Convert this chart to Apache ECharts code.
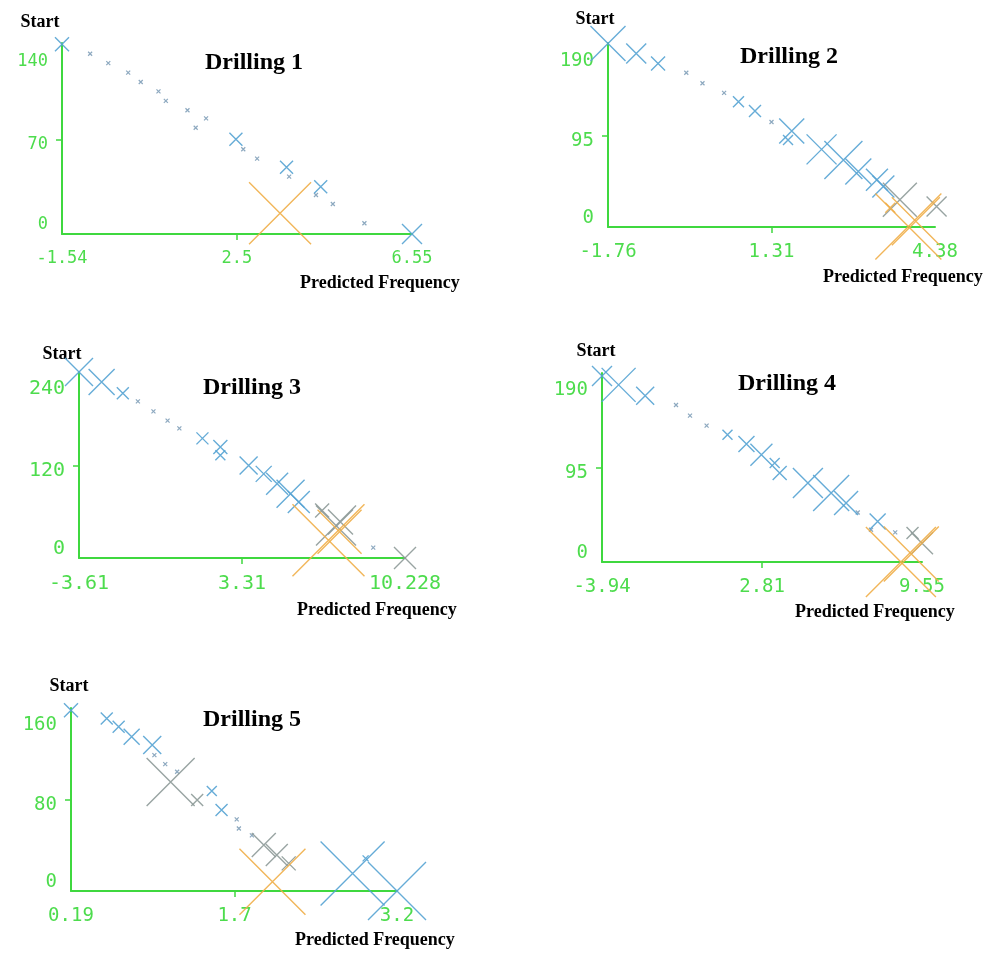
<!DOCTYPE html>
<html><head><meta charset="utf-8">
<script src="https://cdn.jsdelivr.net/npm/echarts@6/dist/echarts.min.js"></script>
<style>html,body{margin:0;padding:0;background:#fff}#c{width:990px;height:954px}</style>
</head><body><div id="c"></div>
<script>
// ---------- data ----------
const titles = ['Drilling 1','Drilling 2','Drilling 3','Drilling 4','Drilling 5'];
const xTicks = [[-1.54,2.5,6.55],[-1.76,1.31,4.38],[-3.61,3.31,10.228],[-3.94,2.81,9.55],[0.19,1.7,3.2]];
const yTicks = [[0,70,140],[0,95,190],[0,120,240],[0,95,190],[0,80,160]];
const yMax = [142,192,241,191,161];
// [x, y, markerSize]
const blue1 = [[-1.54,141,14],[2.48,70.5,13],[3.65,49.6,13],[4.44,35.2,13],[6.55,0,20]];
const grey1 = [];
const orange1 = [[3.50,15.4,62]];
const dots1 = [[-0.89,134],[-0.47,127],[-0.01,120],[0.28,113],[0.69,106],[0.86,99],[1.36,92],[1.79,86],[1.55,79],[2.65,63],[2.97,56],[3.71,42.7],[4.33,29],[4.72,22.3],[5.45,8]];

const blue2 = [[-1.76,191.5,35],[-1.23,181,20],[-0.82,170.6,14],[0.69,130.7,11],[1.0,121,12],[1.69,100.2,25],[1.62,90.8,10],[2.25,81,30],[2.66,70,38],[2.94,57.9,26],[3.29,49.2,22],[3.41,42.2,22]];
const grey2 = [[3.72,28.4,34],[4.41,21.4,20]];
const orange2 = [[3.88,0.5,66],[4.02,6,48],[3.54,20,10]];
const dots2 = [[-0.29,161],[0.014,150],[0.42,140],[1.31,109.6]];

const blue3 = [[-3.61,241,28],[-2.65,228,26],[-1.75,213.6,12],[1.63,155,12],[2.39,143.7,14],[2.39,133,10],[3.59,120,18],[4.23,109,16],[4.80,96.3,22],[5.37,83.4,28],[5.72,72.5,22]];
const grey3 = [[6.71,61.7,14],[7.49,46.6,25],[7.3,42,40],[10.228,0,22]];
const orange3 = [[6.98,23,72],[7.45,34,44]];
const dots3 = [[-1.11,203],[-0.45,190],[0.15,178],[0.65,168],[8.88,13.4]];

const blue4 = [[-3.94,188,20],[-3.24,179,34],[-2.12,168,18],[1.35,128.7,10],[2.15,119.3,16],[2.78,108.5,22],[3.34,100,10],[3.55,90,14],[4.74,79.9,30],[5.72,69.8,36],[6.35,59.7,24],[7.68,41,16]];
const grey4 = [[9.55,19,22],[9.15,29.3,12]];
const orange4 = [[8.66,0,70],[9.1,8,55]];
const dots4 = [[-0.82,158.7],[-0.23,148],[0.47,137.8],[6.84,50],[8.42,30],[7.40,32.6]];

const blue5 = [[0.19,159,14],[0.52,151.8,12],[0.63,144.5,12],[0.75,135.7,16],[0.94,128.4,18],[1.49,88,10],[1.58,71.2,12],[2.79,15.5,64],[3.2,0,58],[2.91,28.7,6]];
const grey5 = [[1.11,96,48],[1.355,80,12],[1.97,40.4,24],[2.09,31.6,22],[2.20,24.3,14]];
const orange5 = [[2.05,8.2,66]];
const dots5 = [[0.96,119.6],[1.06,111.6],[1.17,104.9],[1.72,63],[1.74,55],[1.86,49]];

const blues = [blue1,blue2,blue3,blue4,blue5];
const greys = [grey1,grey2,grey3,grey4,grey5];
const oranges = [orange1,orange2,orange3,orange4,orange5];
const dotsAll = [dots1,dots2,dots3,dots4,dots5];

// ---------- layout ----------
const grids = [
  {left:62, top:43, width:350, height:191},
  {left:608, top:43, width:327, height:184},
  {left:79, top:372, width:326, height:186},
  {left:602, top:373, width:320, height:189},
  {left:71, top:708, width:326, height:183}
];
const xFont = [17,19,20,19,19];
const titlePos = [[249,46],[784,40],[247,371],[782,367],[247,703]];
const startPos = [[40,22],[595,19],[62,354],[596,351],[69,686]];
const pfPos = [[300,283],[823,277],[297,610],[795,612],[295,940]];

const GREEN = '#3fd83f', LGREEN = '#4ddc4d';
const XSYM = 'path://M0,0L10,10M10,0L0,10';

const option = {animation:false, title:[], grid:[], xAxis:[], yAxis:[], series:[], graphic:[]};
for (let i=0;i<5;i++){
  option.grid.push(Object.assign({containLabel:false}, grids[i]));
  option.title.push({text:titles[i], left:titlePos[i][0], top:titlePos[i][1], textAlign:'center',
    textStyle:{fontFamily:'Liberation Serif', fontWeight:'bold', fontSize:24, color:'#000'}});
  const xt = xTicks[i], yt = yTicks[i];
  option.xAxis.push({gridIndex:i, type:'value', min:xt[0], max:xt[2],
    axisLine:{onZero:false, lineStyle:{color:GREEN, width:2}},
    splitLine:{show:false},
    axisTick:{show:true, customValues:[xt[1]], length:6, lineStyle:{color:GREEN, width:1.5}},
    axisLabel:{customValues:xt, color:LGREEN, fontFamily:'DejaVu Sans Mono', fontSize:xFont[i], margin:16,
      formatter:v=>String(v)}});
  option.yAxis.push({gridIndex:i, type:'value', min:0, max:yMax[i],
    axisLine:{onZero:false, lineStyle:{color:GREEN, width:2}},
    splitLine:{show:false},
    axisTick:{show:true, customValues:[yt[1]], length:6, lineStyle:{color:GREEN, width:1.5}},
    axisLabel:{customValues:yt, color:LGREEN, fontFamily:'DejaVu Sans Mono', fontSize:xFont[i], margin:14,
      formatter:v=> v===yt[2] ? '{t|'+v+'}' : (v===yt[0] ? '{b|'+v+'}' : '{m|'+v+'}'),
      rich:{t:{padding:[32,0,0,0]}, m:{padding:[10,0,0,0]}, b:{padding:[0,0,18,0]}}}});
  const mk = (data, color, w, size) => ({type:'scatter', xAxisIndex:i, yAxisIndex:i, data,
    symbol:XSYM, symbolSize: size ? size : (d=>d[2]), silent:true, clip:false,
    itemStyle:{color:'rgba(0,0,0,0)', borderColor:color, borderWidth:w, opacity:0.9}});
  option.series.push(mk(dotsAll[i], '#7f9fb8', 1.2, 4));
  option.series.push(mk(blues[i], '#55a3d3', 1.4));
  option.series.push(mk(greys[i], '#8d9a98', 1.4));
  option.series.push(mk(oranges[i], '#f0ae48', 1.4));
  option.graphic.push({type:'text', x:startPos[i][0], y:startPos[i][1],
    style:{text:'Start', fill:'#000', font:'bold 18px "Liberation Serif"', textAlign:'center', textVerticalAlign:'middle'}});
  option.graphic.push({type:'text', x:pfPos[i][0], y:pfPos[i][1],
    style:{text:'Predicted Frequency', fill:'#000', font:'bold 18px "Liberation Serif"', textAlign:'left', textVerticalAlign:'middle'}});
}
const chart = echarts.init(document.getElementById('c'), null, {renderer:'canvas'});
chart.setOption(option);
</script></body></html>
